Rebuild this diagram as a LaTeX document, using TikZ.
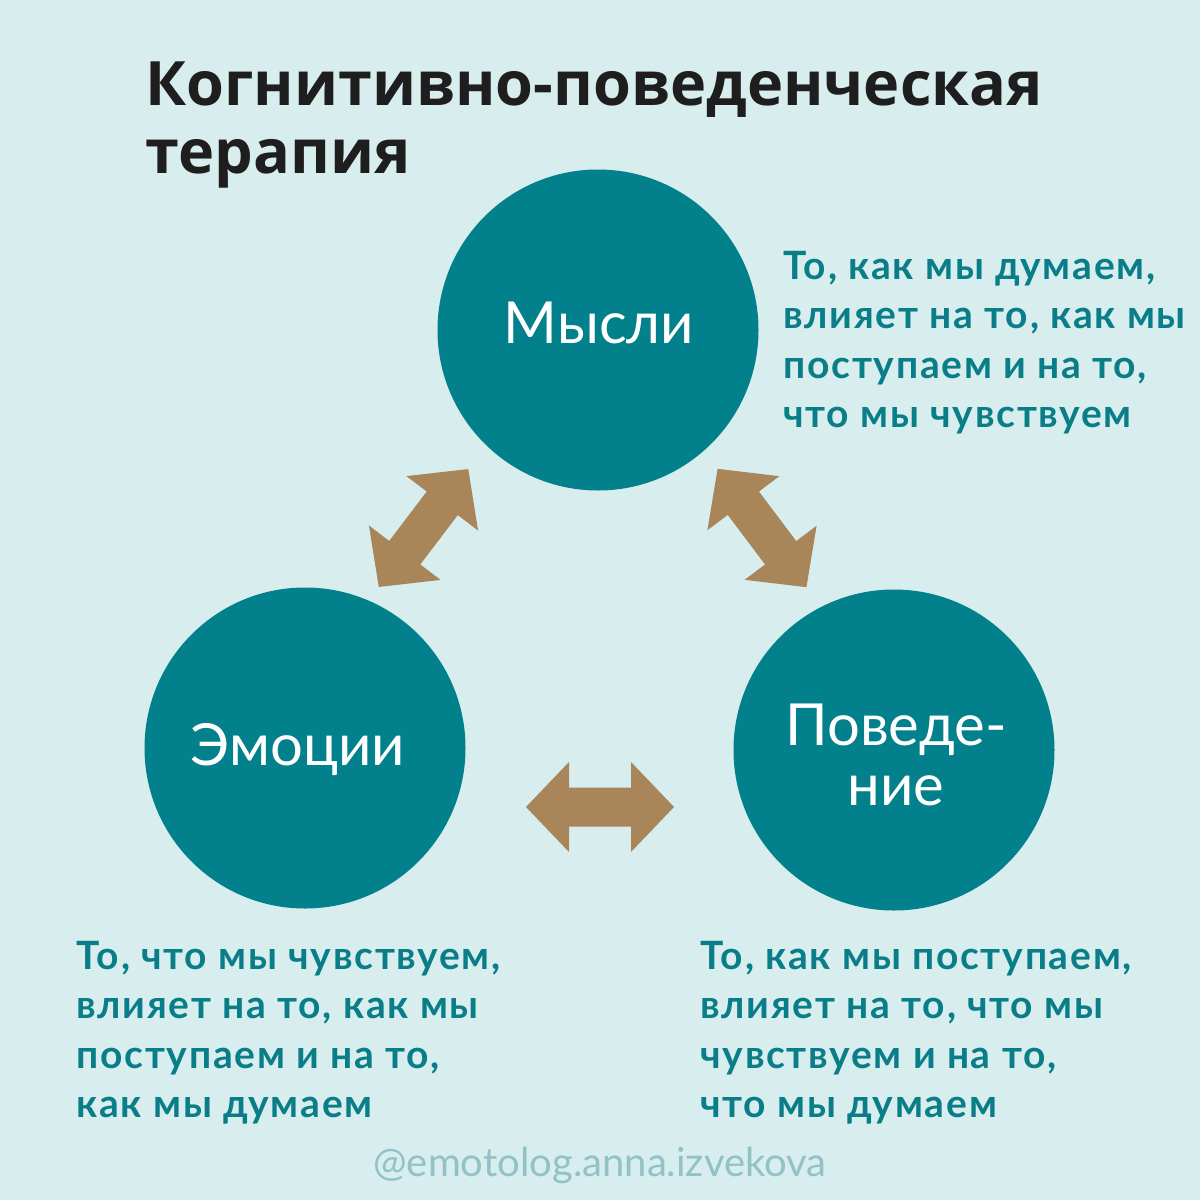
\documentclass[tikz,border=0pt]{standalone}
\usepackage{fontspec}
\setmainfont{Lato}
\newfontfamily\titlefont{Open Sans}
\newfontfamily\bodyfont[LetterSpace=4.5]{Lato}
\definecolor{bgc}{HTML}{D8EDEE}
\definecolor{circc}{HTML}{02808B}
\definecolor{tealtxt}{HTML}{0A7E88}
\definecolor{arrc}{HTML}{A8865A}
\definecolor{wmc}{HTML}{92C2C5}
\definecolor{titc}{HTML}{1E1E1E}
\tikzset{
  bubble/.style={circle, fill=circc, minimum size=321*0.5pt, inner sep=0pt},
  bublabel/.style={text=white, inner sep=0pt, font=\fontsize{29}{30}\selectfont},
  bodytxt/.style={text=tealtxt, inner sep=0pt, anchor=base west, font=\bodyfont\fontsize{19.5}{20}\selectfont\bfseries},
  titletxt/.style={text=titc, inner sep=0pt, anchor=base west, font=\titlefont\fontsize{30.6}{34}\selectfont\bfseries},
  dblarrow/.style={fill=arrc}
}
\newcommand{\dblarr}[3]{%
  \begin{scope}[shift={(#1,#2)}, rotate=#3]
    \fill[dblarrow] (-74,0) -- (-31,-45) -- (-31,-19.5) -- (31,-19.5) -- (31,-45) -- (74,0) -- (31,45) -- (31,19.5) -- (-31,19.5) -- (-31,45) -- cycle;
  \end{scope}}
\begin{document}
\begin{tikzpicture}[x=0.5pt,y=-0.5pt]
\fill[bgc] (0,0) rectangle (1200,1200);
\useasboundingbox (0,0) rectangle (1200,1200);
% title
\node[titletxt] (t1) at (145,105) {Когнитивно-поведенческая};
\node[titletxt] (t2) at (145,173) {терапия};
% circles
\node[bubble] (mysli) at (598,330) {};
\node[bubble] (emo) at (305,748) {};
\node[bubble] (pov) at (894,750) {};
\node[bublabel, anchor=base] (lm) at (599,343) {Мысли};
\node[bublabel, anchor=base] (le) at (298,765) {Эмоции};
\node[bublabel, anchor=base] (lp1) at (896,745) {Поведе-};
\node[bublabel, anchor=base] (lp2) at (896,805) {ние};
% arrows
\dblarr{423.5}{528}{52.8}
\dblarr{762}{528}{-53.1}
\dblarr{600}{807}{0}
% texts
\node[bodytxt] (a1) at (783,279) {То, как мы думаем,};
\node[bodytxt] (a2) at (783,328.5) {влияет на то, как мы};
\node[bodytxt] (a3) at (783,378) {поступаем и на то,};
\node[bodytxt] (a4) at (783,427.5) {что мы чувствуем};
\node[bodytxt] (b1) at (76,969) {То, что мы чувствуем,};
\node[bodytxt] (b2) at (76,1018.5) {влияет на то, как мы};
\node[bodytxt] (b3) at (76,1068) {поступаем и на то,};
\node[bodytxt] (b4) at (76,1117.5) {как мы думаем};
\node[bodytxt] (c1) at (700,969) {То, как мы поступаем,};
\node[bodytxt] (c2) at (700,1018.5) {влияет на то, что мы};
\node[bodytxt] (c3) at (700,1068) {чувствуем и на то,};
\node[bodytxt] (c4) at (700,1117.5) {что мы думаем};
% watermark
\node[text=wmc, inner sep=0pt, anchor=base, font=\fontsize{20}{21}\selectfont] (wm) at (600,1176) {@emotolog.anna.izvekova};
\end{tikzpicture}
\end{document}
